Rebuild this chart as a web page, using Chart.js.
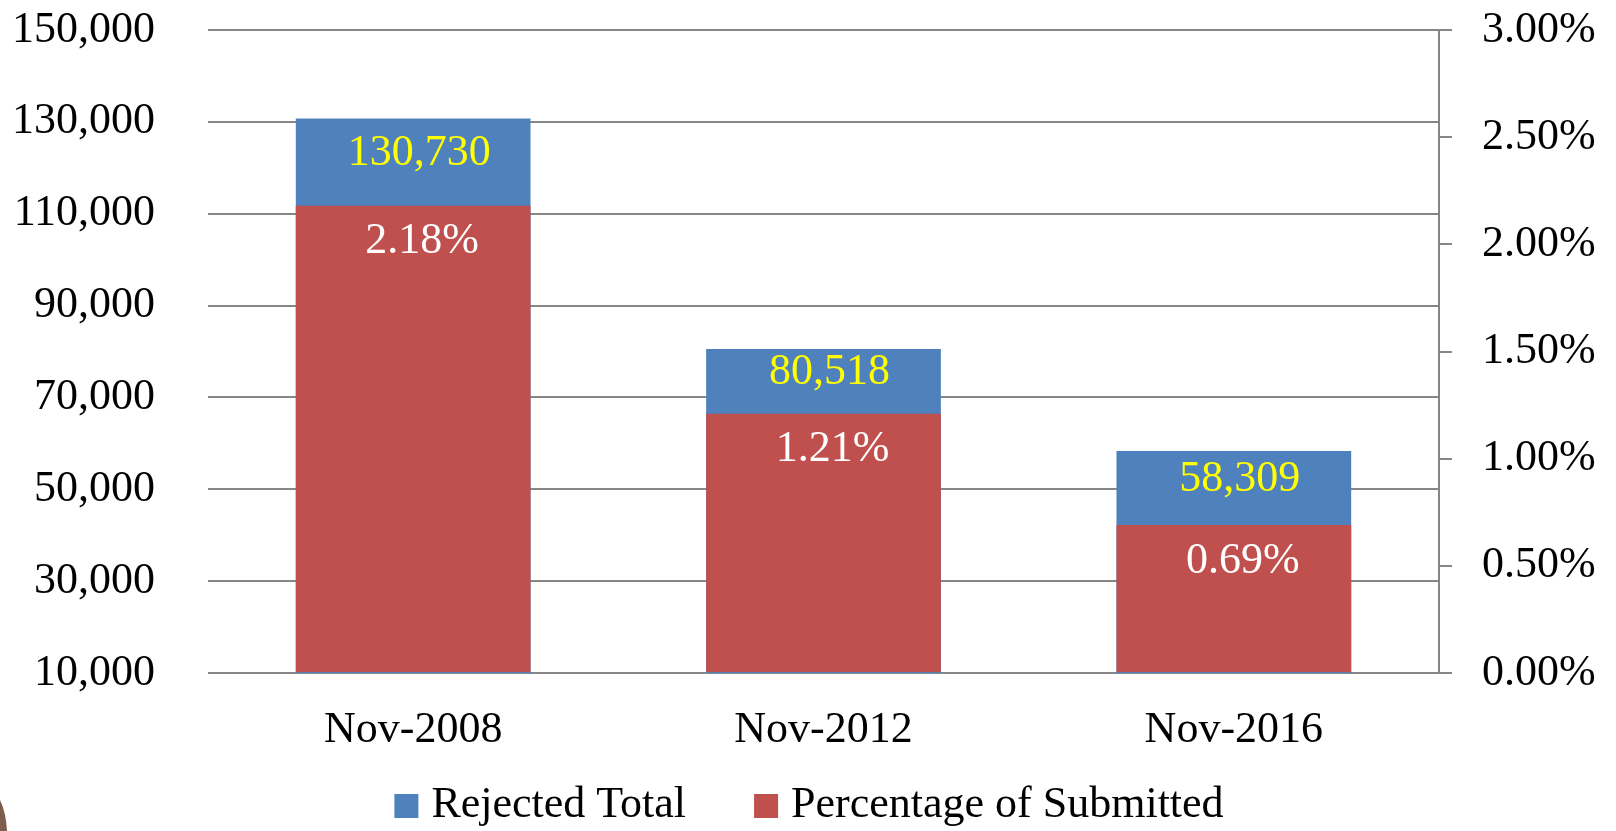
<!DOCTYPE html>
<html>
<head>
<meta charset="utf-8">
<script src="https://cdn.jsdelivr.net/npm/chart.js@4/dist/chart.umd.min.js"></script>
<style>
  html, body { margin: 0; padding: 0; background: #ffffff; }
  #wrap { width: 1616px; height: 831px; position: relative; }
</style>
</head>
<body>
<div id="wrap"><canvas id="c" width="1616" height="831"></canvas></div>
<script>
const categories = ['Nov-2008', 'Nov-2012', 'Nov-2016'];
const rejectedTotal = [130730, 80518, 58309];
const percentSubmitted = [2.18, 1.21, 0.69];
const seriesNames = ['Rejected Total', 'Percentage of Submitted'];
const seriesColors = ['#4F81BD', '#C0504D'];
const leftAxisMin = 10000, leftAxisMax = 150000, leftAxisStep = 20000;
const rightAxisMin = 0, rightAxisMax = 3, rightAxisStep = 0.5;

const FONT = '"Liberation Serif", "Times New Roman", serif';
const FSIZE = 44;
const GRID = '#868686';

const labelPlugin = {
  id: 'barLabels',
  afterDatasetsDraw(chart) {
    const ctx = chart.ctx;
    const blue = chart.getDatasetMeta(0).data;
    const red = chart.getDatasetMeta(1).data;
    ctx.save();
    ctx.font = FSIZE + 'px ' + FONT;
    ctx.textAlign = 'center';
    ctx.textBaseline = 'middle';
    for (let i = 0; i < categories.length; i++) {
      const b = blue[i], r = red[i];
      const midBlue = (b.y + r.y) / 2 - 9;
      ctx.fillStyle = '#FFFF00';
      ctx.fillText(rejectedTotal[i].toLocaleString('en-US'), b.x + 6, midBlue);
      ctx.fillStyle = '#FFFFFF';
      ctx.fillText(percentSubmitted[i].toFixed(2) + '%', r.x + 9, r.y + 36);
    }
    ctx.restore();
  }
};

// legend drawn from the chart's own datasets (names + colours)
const legendPlugin = {
  id: 'customLegend',
  afterDraw(chart) {
    const ctx = chart.ctx;
    const ds = chart.data.datasets;
    const box = 24, gapText = 13, gapItem = 68, cy = 806, centerX = 809;
    ctx.save();
    ctx.font = FSIZE + 'px ' + FONT;
    ctx.textBaseline = 'middle';
    ctx.textAlign = 'left';
    const widths = ds.map(d => ctx.measureText(d.label).width);
    let total = 0;
    widths.forEach((w, i) => { total += box + gapText + w + (i < widths.length - 1 ? gapItem : 0); });
    let x = centerX - total / 2;
    ds.forEach((d, i) => {
      ctx.fillStyle = d.backgroundColor;
      ctx.fillRect(x, cy - box / 2, box, box);
      x += box + gapText;
      ctx.fillStyle = '#000000';
      ctx.fillText(d.label, x, cy - 1);
      x += widths[i] + gapItem;
    });
    ctx.restore();
  }
};

const decoPlugin = {
  id: 'deco',
  afterDraw(chart) {
    const ctx = chart.ctx;
    ctx.save();
    ctx.fillStyle = '#7d5d4c';
    ctx.beginPath();
    ctx.moveTo(0, 800);
    ctx.quadraticCurveTo(6, 812, 7, 831);
    ctx.lineTo(0, 831);
    ctx.closePath();
    ctx.fill();
    ctx.restore();
  }
};

new Chart(document.getElementById('c'), {
  type: 'bar',
  data: {
    labels: categories,
    datasets: [
      {
        label: seriesNames[0],
        data: rejectedTotal,
        yAxisID: 'y',
        backgroundColor: seriesColors[0],
        grouped: false,
        order: 1,
        barPercentage: 0.572,
        categoryPercentage: 1.0
      },
      {
        label: seriesNames[1],
        data: percentSubmitted,
        yAxisID: 'y1',
        backgroundColor: seriesColors[1],
        grouped: false,
        order: 0,
        barPercentage: 0.572,
        categoryPercentage: 1.0
      }
    ]
  },
  options: {
    responsive: false,
    animation: false,
    devicePixelRatio: 1,
    layout: { padding: { top: 30, right: 0, bottom: 0, left: 0 } },
    plugins: {
      tooltip: { enabled: false },
      legend: { display: false }
    },
    scales: {
      x: {
        grid: { display: false },
        border: { display: false },
        ticks: {
          font: { family: FONT, size: FSIZE },
          color: '#000000',
          padding: 23,
          maxRotation: 0,
          autoSkip: false
        },
        afterFit(s) { s.height = 158; }
      },
      y: {
        position: 'left',
        min: leftAxisMin,
        max: leftAxisMax,
        grid: { color: GRID, lineWidth: 2, drawTicks: false },
        border: { display: false },
        ticks: {
          stepSize: leftAxisStep,
          font: { family: FONT, size: FSIZE },
          color: '#000000',
          padding: 53,
          callback: v => Number(v).toLocaleString('en-US')
        },
        afterFit(s) { s.width = 208; s.paddingTop = 0; s.paddingBottom = 0; }
      },
      y1: {
        position: 'right',
        min: rightAxisMin,
        max: rightAxisMax,
        grid: { drawOnChartArea: false, color: GRID, lineWidth: 2, tickLength: 13 },
        border: { display: true, color: GRID, width: 2 },
        ticks: {
          stepSize: rightAxisStep,
          font: { family: FONT, size: FSIZE },
          color: '#000000',
          padding: 30,
          callback: v => Number(v).toFixed(2) + '%'
        },
        afterFit(s) { s.width = 177; s.paddingTop = 0; s.paddingBottom = 0; }
      }
    }
  },
  plugins: [labelPlugin, legendPlugin, decoPlugin]
});
</script>
</body>
</html>
